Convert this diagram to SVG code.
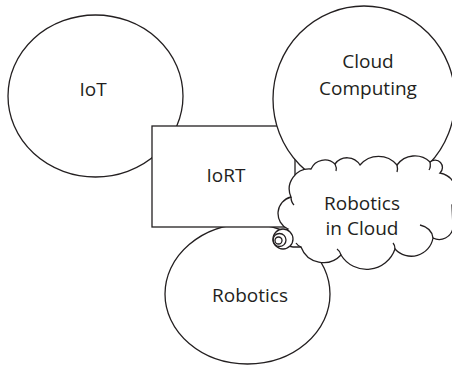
<svg xmlns="http://www.w3.org/2000/svg" width="452" height="365" viewBox="0 0 452 365">
<style>
.s{fill:#fff;stroke:#231f20;stroke-width:1.3}
.n{fill:none;stroke:#231f20;stroke-width:1.3}
text{font-family:"Open Sans","Liberation Sans",sans-serif;font-size:19px;fill:#231f20;text-anchor:middle}
</style>
<rect width="452" height="365" fill="#fff"/>
<g id="iot">
<ellipse class="s" cx="95.5" cy="96" rx="87.5" ry="81"/>
<text x="93" y="96">IoT</text>
</g>
<g id="robotics">
<ellipse class="s" cx="247.5" cy="294" rx="82.5" ry="70"/>
<text x="250" y="302">Robotics</text>
</g>
<g id="iort">
<rect class="s" x="152" y="126" width="143" height="101"/>
<text x="226" y="182">IoRT</text>
</g>
<g id="cloud-computing">
<ellipse class="s" cx="364" cy="99" rx="91" ry="93"/>
<text x="368" y="68">Cloud</text>
<text x="368" y="95">Computing</text>
</g>
<g id="robotics-in-cloud">
<path class="s" d="M288,229 A17,17 0 0 1 291,197 A20,20 0 0 1 311,169 A15,15 0 0 1 335,164 A15,15 0 0 1 360,165 A24,24 0 0 1 397,165 A22,22 0 0 1 430,162 A7,7 0 0 1 440,173 A20,20 0 0 1 452,205 L453,228 A14,14 0 0 1 433,238 A22,22 0 0 1 395,249 A30,30 0 0 1 341,255 A24,24 0 0 1 301,247 L293,247 A10,10 0 0 1 288,229 Z"/>
<path class="n" d="M291,197 Q291,202 294,205 M335,164 Q337,168 336,171 M397,165 Q398,169 397,172 M430,162 Q431,167 429,170 M420,225 Q432,228 433,238 M395,249 Q395,245 393,243 M341,255 Q340,251 337,249 M301,247 Q298,246 296,243"/>
<text x="362" y="210">Robotics</text>
<text x="362" y="235">in Cloud</text>
</g>
<g id="connectors">
<circle class="s" cx="283" cy="239" r="10"/>
<circle class="n" cx="279.5" cy="240" r="6.5"/>
<circle class="n" cx="278.5" cy="240.5" r="3.5"/>
</g>
</svg>
